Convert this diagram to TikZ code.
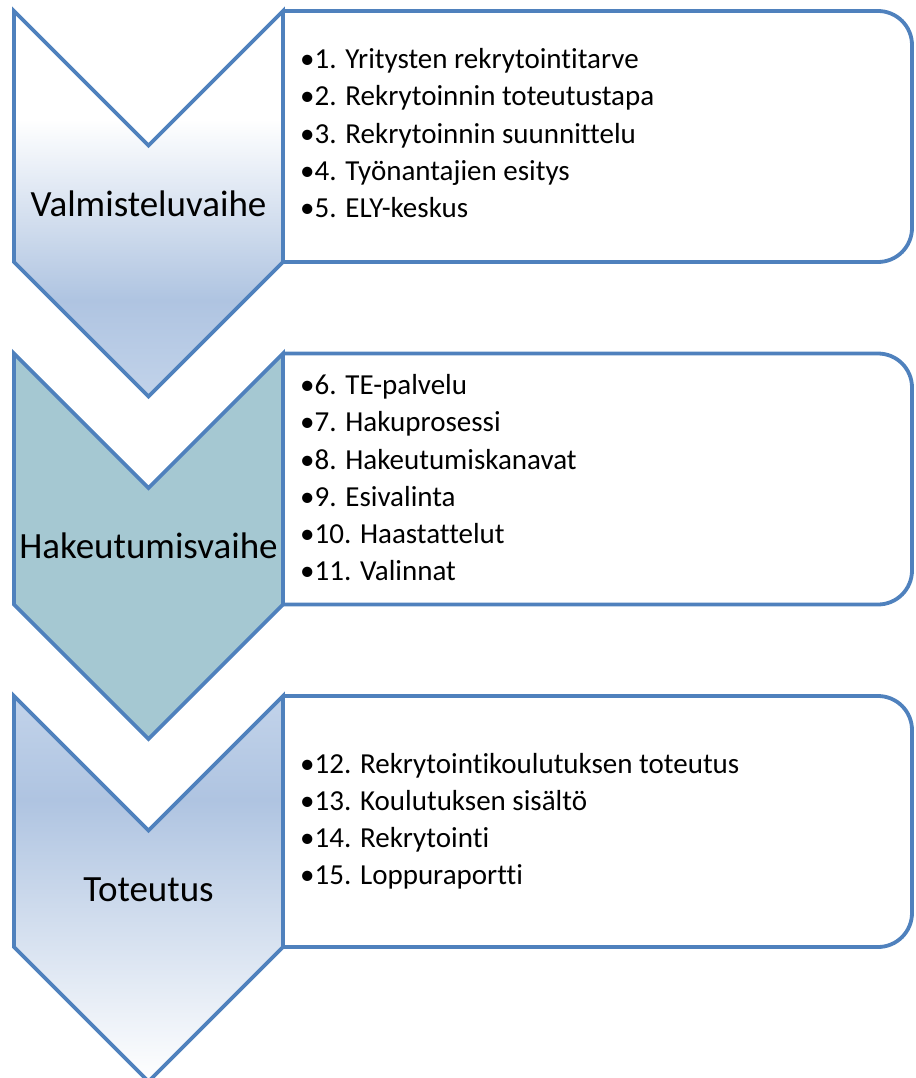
\documentclass[tikz,border=0pt]{standalone}
\usepackage{fontspec}
\setmainfont{Carlito}[Ligatures=NoCommon]

\definecolor{edgeblue}{HTML}{4F81BD}
\definecolor{phaseteal}{HTML}{A5C8D2}
\definecolor{blueDeep}{HTML}{AFC4E1}
\definecolor{blueSoft}{HTML}{C2D3EA}

% vertical fills: the path's bounding box maps to 25bp..75bp
\pgfdeclareverticalshading{fadedown}{100bp}{color(0bp)=(blueSoft); color(25bp)=(blueSoft); color(37.5bp)=(blueDeep); color(61bp)=(white); color(100bp)=(white)}
\pgfdeclareverticalshading{fadeup}{100bp}{color(0bp)=(white); color(25bp)=(white); color(61.5bp)=(blueDeep); color(75bp)=(blueSoft); color(100bp)=(blueSoft)}

\tikzset{
  outline/.style={draw=edgeblue, line width=3.8pt, line join=miter},
  itembox/.style={outline, fill=white, rounded corners=34pt},
  phaselabel/.style={anchor=base, inner sep=0pt, font=\fontsize{37}{44}\selectfont},
  item/.style={anchor=base west, inner sep=0pt, font=\fontsize{29}{34}\selectfont},
}

% chevron whose top corners sit at height #1
\newcommand\drawchevron[2]{%
  \path[outline, #2] (14,#1) -- (148.5,{#1+134.5}) -- (283,#1) -- (283,{#1+251})
    -- (148.5,{#1+385.5}) -- (14,{#1+251}) -- cycle;}
% content panel beside a chevron, rounded on the right
\newcommand\drawpanel[1]{%
  \draw[itembox] (283,#1) -- (912,#1) -- (912,{#1+251}) -- (283,{#1+251});}

\begin{document}
\begin{tikzpicture}[x=1pt, y=-1pt]
  \useasboundingbox (0,0) rectangle (915,1078);
  \clip (0,0) rectangle (915,1078);

  % panels first, chevrons drawn over their left edges
  \drawpanel{11}
  \drawpanel{353.5}
  \drawpanel{696}

  \drawchevron{11}{shading=fadedown}
  \drawchevron{353.5}{fill=phaseteal}
  \drawchevron{696}{shading=fadeup}

  % phase names
  \node[phaselabel] (prep)  at (148.5,216.5) {Valmisteluvaihe};
  \node[phaselabel] (apply) at (148.5,558)   {Hakeutumisvaihe};
  \node[phaselabel] (run)   at (148.5,901)   {Toteutus};

  % items of the preparation phase
  \node[item] (i1) at (300,68.8)  {•1. Yritysten rekrytointitarve};
  \node[item] (i2) at (300,106)   {•2. Rekrytoinnin toteutustapa};
  \node[item] (i3) at (300,143.2) {•3. Rekrytoinnin suunnittelu};
  \node[item] (i4) at (300,180.5) {•4. Työnantajien esitys};
  \node[item] (i5) at (300,217.7) {•5. ELY-keskus};

  % items of the application phase
  \node[item] (i6)  at (300,394.5) {•6. TE-palvelu};
  \node[item] (i7)  at (300,431.7) {•7. Hakuprosessi};
  \node[item] (i8)  at (300,469)   {•8. Hakeutumiskanavat};
  \node[item] (i9)  at (300,506.2) {•9. Esivalinta};
  \node[item] (i10) at (300,543.5) {•10. Haastattelut};
  \node[item] (i11) at (300,580.7) {•11. Valinnat};

  % items of the implementation phase
  \node[item] (i12) at (300,773)   {•12. Rekrytointikoulutuksen toteutus};
  \node[item] (i13) at (300,810.3) {•13. Koulutuksen sisältö};
  \node[item] (i14) at (300,847.5) {•14. Rekrytointi};
  \node[item] (i15) at (300,884.8) {•15. Loppuraportti};
\end{tikzpicture}
\end{document}
